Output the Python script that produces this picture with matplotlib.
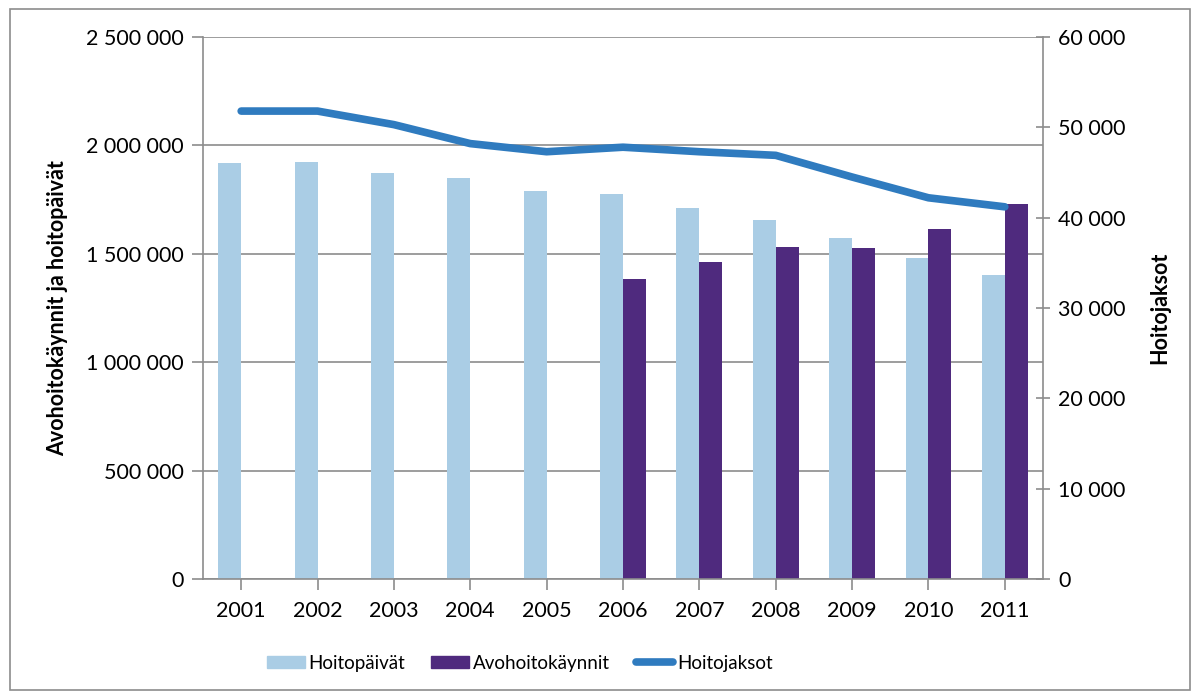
import matplotlib.pyplot as plt
import numpy as np
from matplotlib.patches import Rectangle
from matplotlib.lines import Line2D
from matplotlib.ticker import FuncFormatter

years = ['2001', '2002', '2003', '2004', '2005', '2006', '2007', '2008', '2009', '2010', '2011']
hoitopaivat = [1919000, 1923000, 1873000, 1850000, 1790000, 1776000, 1711000, 1656000, 1573000, 1481000, 1402000]
avohoitokaynnit = [None, None, None, None, None, 1384000, 1462000, 1531000, 1527000, 1614000, 1730000]
hoitojaksot = [51800, 51800, 50300, 48200, 47300, 47800, 47300, 46900, 44500, 42200, 41200]

plt.rcParams['font.family'] = ['Lato', 'DejaVu Sans']

c_light = '#aacde5'
c_purple = '#4f2a7e'
c_line = '#2f7bbf'
c_grid = '#8c8c8c'
fs = 15.5


def spaced(v, pos):
    return '{:,.0f}'.format(v).replace(',', ' ')


fig = plt.figure(figsize=(11.96, 6.96), dpi=100)
ax = fig.add_axes([203 / 1196, 1 - 579 / 696, 840 / 1196, 542 / 696])
ax2 = ax.twinx()

x = np.arange(len(years))
w = 0.3
ax.bar(x - w / 2, hoitopaivat, width=w, color=c_light, zorder=2)
av_x = [xi for xi, v in zip(x, avohoitokaynnit) if v is not None]
av_v = [v for v in avohoitokaynnit if v is not None]
ax.bar(np.array(av_x) + w / 2, av_v, width=w, color=c_purple, zorder=2)

ax2.plot(x, hoitojaksot, color=c_line, lw=5.5, solid_capstyle='round', solid_joinstyle='round')

ax.set_xlim(-0.5, len(years) - 0.5)
ax.set_ylim(0, 2500000)
ax2.set_ylim(0, 60000)
ax.set_yticks(np.arange(0, 2500001, 500000))
ax2.set_yticks(np.arange(0, 60001, 10000))
ax.yaxis.set_major_formatter(FuncFormatter(spaced))
ax2.yaxis.set_major_formatter(FuncFormatter(spaced))
ax.set_xticks(x)
ax.set_xticklabels(years)

ax.grid(axis='y', color=c_grid, lw=1.2, zorder=0)
ax.set_axisbelow(True)

for a in (ax, ax2):
    for s in a.spines.values():
        s.set_visible(False)
    a.tick_params(labelsize=fs, colors='black', length=6, width=1.2)
ax.spines['left'].set_visible(True)
ax.spines['bottom'].set_visible(True)
ax2.spines['right'].set_visible(True)
for s in (ax.spines['left'], ax.spines['bottom'], ax2.spines['right']):
    s.set_color(c_grid)
    s.set_linewidth(1.2)
ax.tick_params(axis='both', color=c_grid)
ax2.tick_params(axis='y', color=c_grid, direction='inout', length=10, pad=6)
ax.tick_params(axis='y', direction='out', length=8, pad=6)
ax.tick_params(axis='x', direction='out', length=8, pad=8)

ax.set_ylabel('Avohoitokäynnit ja hoitopäivät', fontsize=fs, fontweight='bold', labelpad=13)
ax2.set_ylabel('Hoitojaksot', fontsize=fs, fontweight='bold', rotation=90, labelpad=17)

handles = [Rectangle((0, 0), 1, 1, color=c_light),
           Rectangle((0, 0), 1, 1, color=c_purple),
           Line2D([0], [0], color=c_line, lw=5.5, solid_capstyle='round')]
fig.legend(handles, ['Hoitopäivät', 'Avohoitokäynnit', 'Hoitojaksot'],
           loc='center', bbox_to_anchor=(520 / 1196, 1 - 663 / 696), ncol=3,
           frameon=False, fontsize=13.5, handlelength=2.0, handleheight=0.55,
           handletextpad=0.2, columnspacing=1.4)

border = Rectangle((10 / 1196, 1 - 690 / 696), 1180 / 1196, 681 / 696,
                   transform=fig.transFigure, fill=False, edgecolor='#8c8c8c', lw=1.2)
fig.patches.append(border)

fig.savefig('out.png', dpi=100)
